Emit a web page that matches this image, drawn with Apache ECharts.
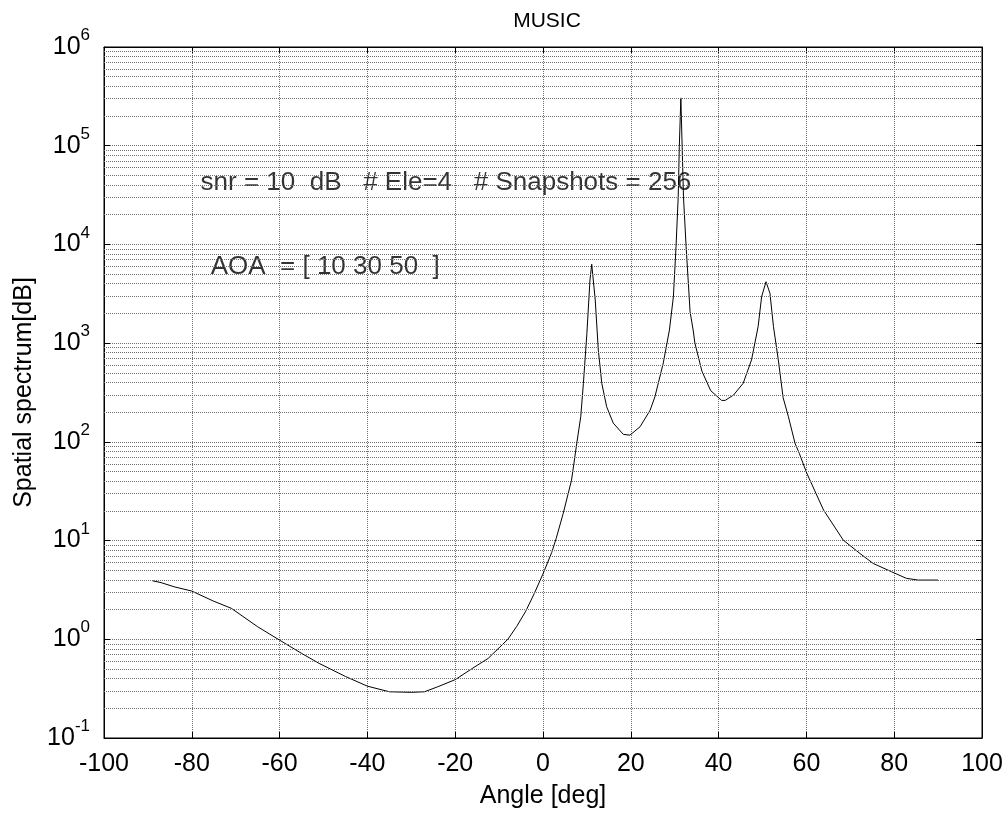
<!DOCTYPE html>
<html>
<head>
<meta charset="utf-8">
<title>MUSIC</title>
<script src="https://cdn.jsdelivr.net/npm/echarts@6/dist/echarts.min.js"></script>
<style>
  html, body { margin: 0; padding: 0; background: #fff; }
  #chart { width: 1008px; height: 814px; }
</style>
</head>
<body>
<div id="chart"></div>
<script>
// angle of arrival scan (deg) and the MUSIC pseudo-spectrum
const angles = [
  -89, -87, -84, -80, -75, -71, -65, -60, -55, -51, -45, -40, -35, -30, -27, -24,
  -20, -16, -12.5, -8, -6, -4, -2, 0, 2, 3, 4.6, 6.5, 7.7, 8.6, 9.2, 10, 10.7, 11.1,
  11.9, 12.6, 13.4, 14.5, 16, 18.3, 19.8, 22.1, 24.4, 25.5, 27.4, 28.8, 29.7, 30.3,
  30.8, 31.05, 31.4, 31.7, 32, 32.6, 33.3, 33.5, 34.2, 34.6, 36.2, 38.2, 40.7, 41.5,
  43.4, 45.6, 47.5, 49, 49.8, 50.8, 51.7, 52.5, 53.6, 54.7, 55.9, 57.4, 58.4, 60.1,
  63.9, 68.4, 72.2, 75.2, 79.4, 82.8, 85.5, 90,
]
const spectrum = [
  3.92, 3.75, 3.4, 3.08, 2.43, 2.06, 1.34, 0.98, 0.72, 0.57, 0.42, 0.335, 0.294, 0.29, 0.294, 0.33,
  0.39, 0.51, 0.64, 1.0, 1.35, 1.9, 2.9, 4.6, 7.6, 10.5, 18.8, 41, 97, 180, 390, 1260, 4370, 6300,
  2740, 850, 390, 227, 155, 119, 117, 142, 209, 287, 630, 1360, 2950, 9480,
  30400, 97700, 305000, 97700, 30400, 9480, 2950, 2080, 1360, 1000, 520, 330, 263, 263,
  298, 392, 676, 1470, 2950, 4190, 3200, 1470, 676, 280, 180, 97, 76, 48,
  20.4, 10.1, 7.4, 5.87, 4.83, 4.14, 3.98, 3.98,
]

const xTicks = [-100, -80, -60, -40, -20, 0, 20, 40, 60, 80, 100]
const decades = [-1, 0, 1, 2, 3, 4, 5, 6]
const minorSteps = [2, 3, 4, 5, 6, 7, 8, 9]

const notes = [
  { angle: -78, level: 41700, text: 'snr = 10  dB   # Ele=4   # Snapshots = 256' },
  { angle: -75.7, level: 6000, text: 'AOA  = [ 10 30 50  ]' },
]

const FONT = '"Liberation Sans", Arial, Helvetica, sans-serif'
const GRID_COLOR = '#6e6e6e'

// minor log grid lines (2..9 x 10^n)
const minorGrid = []
decades.slice(0, -1).forEach(d => {
  minorSteps.forEach(m => minorGrid.push(m * Math.pow(10, d)))
})

const gridLine = { show: true, lineStyle: { color: GRID_COLOR, type: 'dotted', width: 1 } }

const chart = echarts.init(document.getElementById('chart'), null, { renderer: 'canvas' })

chart.setOption({
  backgroundColor: '#fff',
  animation: false,
  textStyle: { fontFamily: FONT, color: '#000' },
  title: {
    text: 'MUSIC',
    left: 542,
    top: 6,
    textAlign: 'center',
    textStyle: { fontFamily: FONT, fontSize: 21, fontWeight: 'normal', color: '#000' },
  },
  grid: {
    left: 104,
    right: 26,
    top: 47,
    bottom: 76,
    show: true,
    borderColor: '#000',
    borderWidth: 1,
    backgroundColor: 'transparent',
  },
  xAxis: [
    {
      type: 'value',
      min: xTicks[0],
      max: xTicks[xTicks.length - 1],
      interval: 20,
      name: 'Angle [deg]',
      nameLocation: 'middle',
      nameGap: 46,
      nameTextStyle: { fontFamily: FONT, fontSize: 25, color: '#000', verticalAlign: 'top' },
      axisLine: { show: true, onZero: false, lineStyle: { color: '#000', width: 1 } },
      axisTick: { show: true, inside: true, length: 6, lineStyle: { color: '#000' } },
      axisLabel: { fontFamily: FONT, fontSize: 25, color: '#000', margin: 14 },
      splitLine: gridLine,
    },
    {
      type: 'value',
      position: 'top',
      min: xTicks[0],
      max: xTicks[xTicks.length - 1],
      interval: 20,
      axisLine: { show: true, onZero: false, lineStyle: { color: '#000' } },
      axisTick: { show: true, inside: true, length: 6, lineStyle: { color: '#000' } },
      axisLabel: { show: false },
      splitLine: { show: false },
    },
  ],
  yAxis: [
    {
      type: 'log',
      logBase: 10,
      min: Math.pow(10, decades[0]),
      max: Math.pow(10, decades[decades.length - 1]),
      splitNumber: 7,
      name: 'Spatial spectrum[dB]',
      nameLocation: 'middle',
      nameGap: 66,
      nameRotate: 90,
      nameTextStyle: { fontFamily: FONT, fontSize: 25, color: '#000' },
      axisLine: { show: true, onZero: false, lineStyle: { color: '#000', width: 1 } },
      axisTick: { show: true, inside: true, length: 6, lineStyle: { color: '#000' } },
      axisLabel: {
        margin: 14,
        formatter: v => '{b|10}{e|' + Math.round(Math.log10(v)) + '}',
        rich: {
          b: { fontFamily: FONT, fontSize: 25, color: '#000', lineHeight: 40 },
          e: { fontFamily: FONT, fontSize: 17, color: '#000', verticalAlign: 'top', lineHeight: 14 },
        },
      },
      splitLine: gridLine,
    },
    {
      type: 'log',
      logBase: 10,
      position: 'right',
      min: Math.pow(10, decades[0]),
      max: Math.pow(10, decades[decades.length - 1]),
      splitNumber: 7,
      axisLine: { show: true, onZero: false, lineStyle: { color: '#000' } },
      axisTick: { show: true, inside: true, length: 6, lineStyle: { color: '#000' } },
      axisLabel: { show: false },
      splitLine: { show: false },
    },
  ],
  series: [
    {
      name: 'grid',
      type: 'line',
      data: [],
      silent: true,
      z: 1,
      markLine: {
        silent: true,
        symbol: 'none',
        label: { show: false },
        lineStyle: { color: GRID_COLOR, type: 'dotted', width: 1 },
        emphasis: { disabled: true },
        data: minorGrid.map(v => ({ yAxis: v })),
      },
    },
    {
      name: 'MUSIC',
      type: 'line',
      z: 3,
      showSymbol: false,
      symbol: 'none',
      lineStyle: { color: '#000', width: 1 },
      data: angles.map((a, i) => [a, spectrum[i]]),
    },
    {
      name: 'notes',
      type: 'scatter',
      symbolSize: 0,
      z: 4,
      silent: true,
      label: {
        show: true,
        position: 'right',
        distance: 0,
        fontFamily: FONT,
        fontSize: 26,
        color: '#000',
        formatter: p => notes[p.dataIndex].text,
      },
      data: notes.map(n => [n.angle, n.level]),
    },
  ],
})
</script>
</body>
</html>
